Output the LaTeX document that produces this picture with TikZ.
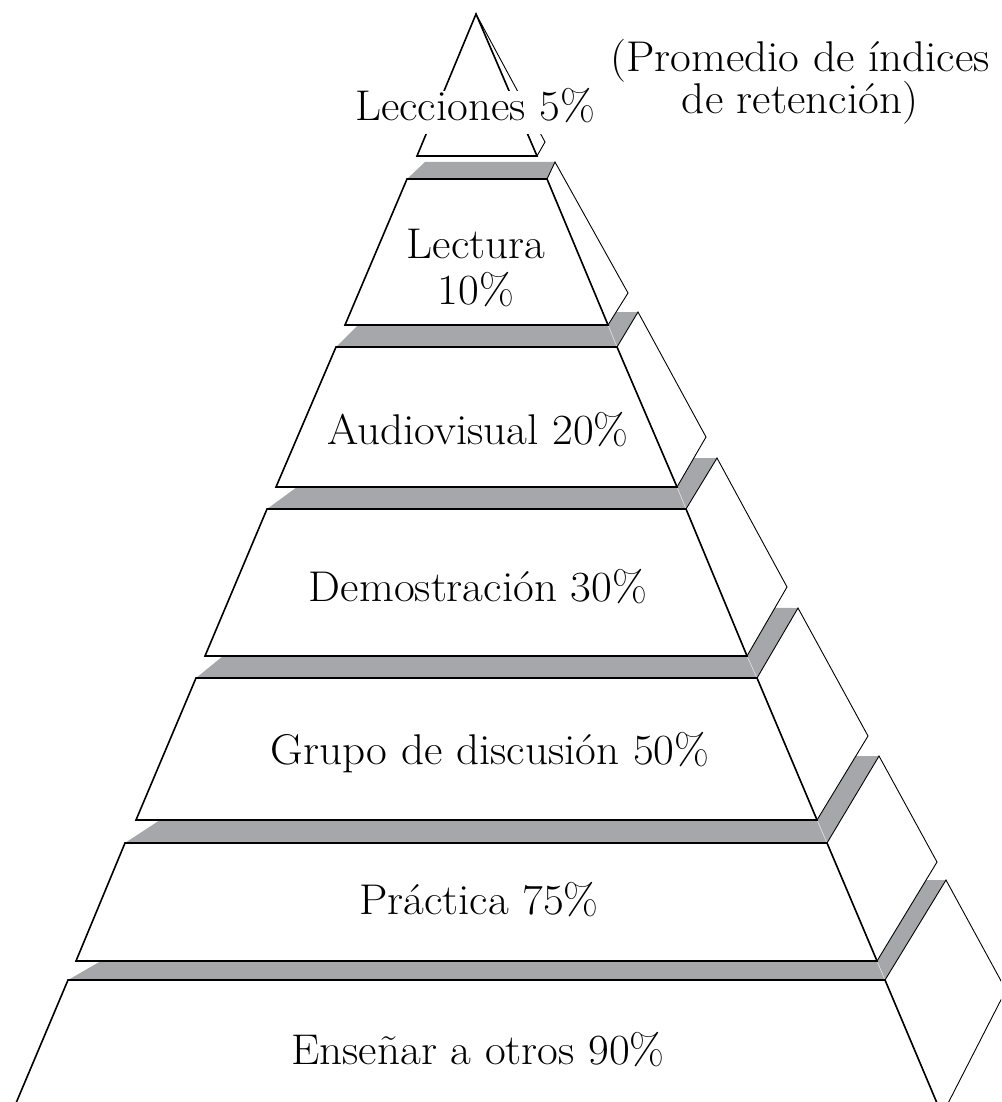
\documentclass[tikz,border=0pt]{standalone}
\usepackage{graphicx}
\usepackage{tikz}
\usetikzlibrary{calc}
\definecolor{bandgray}{RGB}{166,167,171}
\newcommand{\widetxt}[1]{\scalebox{1.05}[1]{#1}}
\tikzset{
  frontface/.style={draw=black, fill=white, line width=1.6pt, line join=miter},
  sideface/.style={draw=black, fill=white, line width=0.9pt, line join=miter},
  band/.style={fill=bandgray, draw=none},
  seam/.style={draw=white!70!bandgray, line width=0.6pt},
  lbl/.style={font=\fontsize{43}{50}\selectfont, inner sep=0pt, anchor=base},
}
\begin{document}
\begin{tikzpicture}[x=1pt,y=-1pt]
\useasboundingbox (0,0) rectangle (1001,1102);
\clip (0,0) rectangle (1001,1102);
% ---- coordinates
\coordinate (A) at (476,14);
\coordinate (L1bl) at (417,156);
\coordinate (L1br) at (537,156);
\coordinate (L1s) at (545,142);
% Lectura
\coordinate (L2tl) at (407,179); \coordinate (L2tr) at (547,179);
\coordinate (L2br) at (608,325); \coordinate (L2bl) at (345,325);
\coordinate (L2g) at (425,162); \coordinate (L2q) at (555,162); \coordinate (L2r) at (628,293);
% Audiovisual
\coordinate (L3tl) at (336,347); \coordinate (L3tr) at (617,347);
\coordinate (L3br) at (677,487); \coordinate (L3bl) at (276,487);
\coordinate (L3g) at (358,325); \coordinate (L3q) at (638,312); \coordinate (L3r) at (706,437);
\coordinate (L3p) at ($(L2br)!0.406!(L2r)$);
% Demostracion
\coordinate (L4tl) at (267,509); \coordinate (L4tr) at (686,509);
\coordinate (L4br) at (747,656); \coordinate (L4bl) at (205,656);
\coordinate (L4g) at (297,487); \coordinate (L4q) at (717,458); \coordinate (L4r) at (787,587);
\coordinate (L4p) at ($(L3br)!0.58!(L3r)$);
% Grupo
\coordinate (L5tl) at (196,678); \coordinate (L5tr) at (757,678);
\coordinate (L5br) at (817,820); \coordinate (L5bl) at (136,820);
\coordinate (L5g) at (223,656); \coordinate (L5q) at (798,608); \coordinate (L5r) at (868,736);
\coordinate (L5p) at ($(L4br)!0.696!(L4r)$);
% Practica
\coordinate (L6tl) at (125,843); \coordinate (L6tr) at (827,843);
\coordinate (L6br) at (877,961); \coordinate (L6bl) at (76,961);
\coordinate (L6g) at (160,820); \coordinate (L6q) at (879,756); \coordinate (L6r) at (937,862);
\coordinate (L6p) at ($(L5br)!0.762!(L5r)$);
% Ensenar
\coordinate (L7tl) at (68,980); \coordinate (L7tr) at (885,980);
\coordinate (L7br) at (942,1115); \coordinate (L7bl) at (11,1115);
\coordinate (L7g) at (101,961); \coordinate (L7q) at (946,880); \coordinate (L7r) at (1006,990);
\coordinate (L7p) at ($(L6br)!0.818!(L6r)$);
% ---- gray top faces
\fill[band] (L2tl) -- (L2g) -- (L2q) -- (L2tr) -- cycle;
\fill[band] (L3tl) -- (L3g) -- (L2br) -- (L3p) -- (L3q) -- (L3tr) -- cycle;
\fill[band] (L4tl) -- (L4g) -- (L3br) -- (L4p) -- (L4q) -- (L4tr) -- cycle;
\fill[band] (L5tl) -- (L5g) -- (L4br) -- (L5p) -- (L5q) -- (L5tr) -- cycle;
\fill[band] (L6tl) -- (L6g) -- (L5br) -- (L6p) -- (L6q) -- (L6tr) -- cycle;
\fill[band] (L7tl) -- (L7g) -- (L6br) -- (L7p) -- (L7q) -- (L7tr) -- cycle;
\draw[seam] (L2br) -- (L3tr);
\draw[seam] (L3br) -- (L4tr);
\draw[seam] (L4br) -- (L5tr);
\draw[seam] (L5br) -- (L6tr);
\draw[seam] (L6br) -- (L7tr);
% ---- side faces
\draw[sideface] (A) -- (L1s) -- (L1br) -- cycle;
\draw[sideface] (L2tr) -- (L2q) -- (L2r) -- (L2br) -- cycle;
\draw[sideface] (L3tr) -- (L3q) -- (L3r) -- (L3br) -- cycle;
\draw[sideface] (L4tr) -- (L4q) -- (L4r) -- (L4br) -- cycle;
\draw[sideface] (L5tr) -- (L5q) -- (L5r) -- (L5br) -- cycle;
\draw[sideface] (L6tr) -- (L6q) -- (L6r) -- (L6br) -- cycle;
\draw[sideface] (L7tr) -- (L7q) -- (L7r) -- (L7br) -- cycle;
% ---- front faces
\draw[frontface] (A) -- (L1br) -- (L1bl) -- cycle;
\draw[frontface] (L2tl) -- (L2tr) -- (L2br) -- (L2bl) -- cycle;
\draw[frontface] (L3tl) -- (L3tr) -- (L3br) -- (L3bl) -- cycle;
\draw[frontface] (L4tl) -- (L4tr) -- (L4br) -- (L4bl) -- cycle;
\draw[frontface] (L5tl) -- (L5tr) -- (L5br) -- (L5bl) -- cycle;
\draw[frontface] (L6tl) -- (L6tr) -- (L6br) -- (L6bl) -- cycle;
\draw[frontface] (L7tl) -- (L7tr) -- (L7br) -- (L7bl) -- cycle;
% ---- labels
\node[lbl, fill=white, text height=30pt, text depth=13pt, inner xsep=2pt] (t1) at (475,121) {\widetxt{Lecciones 5\%}};
\node[lbl] (t2a) at (476,258) {\widetxt{Lectura}};
\node[lbl] (t2b) at (476,304) {\widetxt{10\%}};
\node[lbl] (t3) at (478,444) {\widetxt{Audiovisual 20\%}};
\node[lbl] (t4) at (478,601) {\widetxt{Demostración 30\%}};
\node[lbl] (t5) at (490,764) {\widetxt{Grupo de discusión 50\%}};
\node[lbl] (t6) at (479,914) {\widetxt{Práctica 75\%}};
\node[lbl] (t7) at (478,1064) {\widetxt{Enseñar a otros 90\%}};
\node[lbl] (c1) at (800,72) {\widetxt{(Promedio de índices}};
\node[lbl] (c2) at (800,114) {\widetxt{de retención)}};
\end{tikzpicture}
\end{document}
